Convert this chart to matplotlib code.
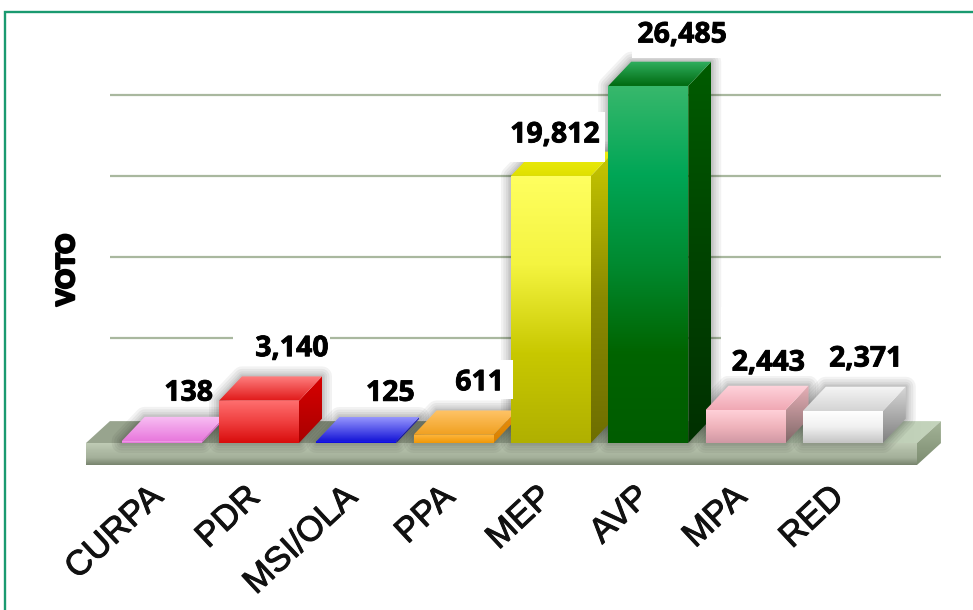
import numpy as np
import matplotlib
matplotlib.use("Agg")
import matplotlib.pyplot as plt
import matplotlib.patheffects as pe
from matplotlib.colors import LinearSegmentedColormap
from matplotlib.patches import Polygon, Rectangle

categories = ["CURPA", "PDR", "MSI/OLA", "PPA", "MEP", "AVP", "MPA", "RED"]
votes = [138, 3140, 125, 611, 19812, 26485, 2443, 2371]
vote_labels = ["138", "3,140", "125", "611", "19,812", "26,485", "2,443", "2,371"]
grid_ticks = [6000, 12000, 18000, 24000]

# offset of each number from the front top of its bar, in pixels
label_offsets = [(27, 48), (33, 52), (34, 48), (26, 52), (4, 41), (34, 51), (23, 47), (23, 52)]

# colours per bar: front (top to bottom), lid (back to front), side (top to bottom)
front_cols = [["#f4a4ea", "#e070d8"], ["#ff7070", "#f04040", "#d80c0c"], ["#2020e8", "#0808d8"],
              ["#ffb840", "#f09808"], ["#ffff60", "#f4f440", "#c8c800", "#b0b000"],
              ["#38b86c", "#00a656", "#008a30", "#006400", "#005c00"], ["#ffd0d8", "#f0b4bc", "#d098a4"],
              ["#ffffff", "#f0f0f0", "#c4c4c4"]]
lid_cols = [["#f8c0f4", "#e878dc"], ["#ff8080", "#e01818"], ["#9c9cff", "#1818d8"], ["#ffc468", "#f0a020"],
            ["#eeee10", "#e0e000"], ["#30b060", "#006a10"], ["#ffd4dc", "#f0a8b4"], ["#f6f6f6", "#d4d4d4"]]
side_cols = [["#e070d8", "#e070d8"], ["#d80000", "#a80000"], ["#2020b0", "#1010a0"], ["#e89010", "#d88000"],
             ["#c8c800", "#8a8a00", "#6e6e00"], ["#005c00", "#004400", "#003000"], ["#e8b0b8", "#806868"],
             ["#d8d8d8", "#808080"]]

SCALE = 0.01348  # px per vote
STEP = 97.3      # px between bars
X0, Y0 = 161.7, 443
W, H = 973, 610
BAR_W = 80 / STEP
DX = 23 / STEP
DY = 24.3 / SCALE


def X(px):
    return (px - X0) / STEP


def Y(py):
    return (Y0 - py) / SCALE


fig = plt.figure(figsize=(9.73, 6.1), dpi=100, facecolor="white")
ax = fig.add_axes([0, 0, 1, 1])
ax.set_xlim(X(0), X(W))
ax.set_ylim(Y(H), Y(0))
ax.axis("off")
ax.set_autoscale_on(False)


def grad_poly(pts, colors, z, horizontal=False):
    pts = np.array(pts)
    cmap = LinearSegmentedColormap.from_list("f", colors)
    g = np.linspace(0, 1, 256)
    g = g[None, :] if horizontal else g[:, None]
    im = ax.imshow(g, cmap=cmap, aspect="auto", origin="upper", zorder=z, vmin=0, vmax=1,
                   extent=[pts[:, 0].min(), pts[:, 0].max(), pts[:, 1].min(), pts[:, 1].max()])
    clip = Polygon(pts, closed=True, transform=ax.transData, fc="none", ec="none")
    ax.add_patch(clip)
    im.set_clip_path(clip)


# frame, only top and left
ax.plot([X(5), X(5), X(W)], [Y(H), Y(12), Y(12)], color="#1a9a70", lw=1.7, zorder=1, solid_joinstyle="miter")

# back wall lines
ax.hlines([t + DY for t in grid_ticks], X(110), X(941), color="#a9b89f", lw=1.6, zorder=1)

# floor slab
fl, fr = X(86), X(917)
ft, fb = 0, Y(465)
grad_poly([(fl, ft), (fl + DX * 1.04, DY * 0.9), (fr + DX * 1.04, DY * 0.9), (fr, ft)],
          ["#98a48e", "#98a48e", "#a4b29a", "#c4d4bc"], 2, horizontal=True)
grad_poly([(fl, ft), (fr, ft), (fr, fb), (fl, fb)], ["#c0ccb6", "#b0bca6", "#a4b09a", "#78846e"], 2)
grad_poly([(fr, ft), (fr + DX * 1.04, DY * 0.9), (fr + DX * 1.04, DY * 0.9 + fb), (fr, fb)],
          ["#a4b498", "#7c8c70"], 2)

# soft halo behind the bars
for i, v in enumerate(votes):
    l, r = i - BAR_W / 2, i + BAR_W / 2
    hull = [(l, 0), (l, v), (l + DX, v + DY), (r + DX, v + DY), (r + DX, DY), (r, 0)]
    for lw in [20, 15, 10, 6, 3]:
        ax.add_patch(Polygon(hull, closed=True, fc="none", ec="black", lw=lw * 0.72, alpha=0.05,
                             joinstyle="round", zorder=3))

# bars
for i, v in enumerate(votes):
    l, r = i - BAR_W / 2, i + BAR_W / 2
    z = 4 + i * 0.1
    grad_poly([(r, 0), (r + DX, DY), (r + DX, v + DY), (r, v)], side_cols[i], z)
    grad_poly([(l, v), (l + DX, v + DY), (r + DX, v + DY), (r, v)], lid_cols[i], z)
    grad_poly([(l, 0), (r, 0), (r, v), (l, v)], front_cols[i], z)

# white boxes sitting behind the numbers
for x0, y0, x1, y1 in [(233, 322, 330, 362), (440, 360, 513, 399), (500, 112, 605, 162),
                       (632, 16, 732, 58), (721, 307, 945, 376)]:
    ax.add_patch(Rectangle((X(x0), Y(y1)), X(x1) - X(x0), Y(y0) - Y(y1), fc="white", ec="none", zorder=6))

for i, v in enumerate(votes):
    t = ax.annotate(vote_labels[i], (i, v), xytext=label_offsets[i], textcoords="offset pixels",
                    ha="center", va="center", fontsize=20.5, fontweight="bold", family="Open Sans",
                    color="black", zorder=7)
    t.set_path_effects([pe.withStroke(linewidth=0.6, foreground="black")])
    t = ax.text(i - 15 / STEP, Y(480), categories[i], rotation=43, rotation_mode="anchor", ha="right", va="top",
                fontsize=25, family="Liberation Sans", color="#111111", zorder=7)
    t.set_path_effects([pe.withStroke(linewidth=0.7, foreground="#111111")])

t = ax.text(X(67), Y(270), "VOTO", rotation=90, ha="center", va="center", fontsize=18.5, fontweight="bold",
            family="Liberation Sans", color="black", zorder=7)
t.set_path_effects([pe.withStroke(linewidth=1.8, foreground="black")])

fig.savefig("out.png", dpi=100)
